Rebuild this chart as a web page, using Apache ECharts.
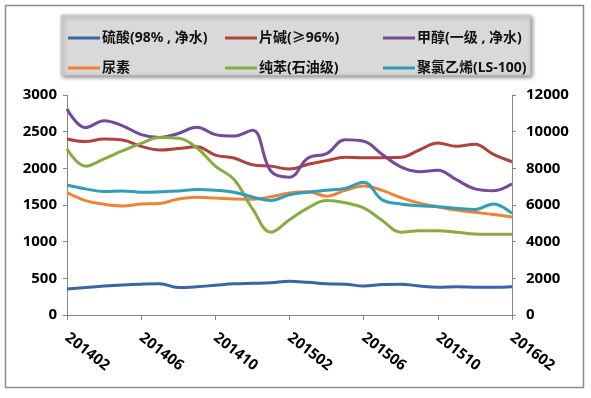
<!DOCTYPE html>
<html>
<head>
<meta charset="utf-8">
<script src="https://cdn.jsdelivr.net/npm/echarts@6/dist/echarts.min.js"></script>
<style>
  html, body { margin: 0; padding: 0; background: #fff; }
  #chart { width: 591px; height: 398px; }
</style>
</head>
<body>
<div id="chart"></div>
<script>
// 化工品价格走势 (左轴: 元/吨, 右轴: 纯苯、聚氯乙烯)

const months = [
    '201402', '201403', '201404', '201405', '201406', '201407', '201408', '201409', '201410',
    '201411', '201412', '201501', '201502', '201503', '201504', '201505', '201506', '201507',
    '201508', '201509', '201510', '201511', '201512', '201601', '201602'
];

// 左轴
const sulfuricAcid = [355, 375, 395, 410, 420, 425, 375, 385, 405, 425, 432, 440, 460, 445, 425, 420, 395, 415, 420, 395, 378, 385, 380, 378, 385];
const causticSoda = [2400, 2365, 2400, 2385, 2300, 2250, 2270, 2295, 2180, 2140, 2050, 2030, 1990, 2055, 2105, 2150, 2145, 2145, 2150, 2250, 2345, 2300, 2330, 2190, 2090];
const methanol = [2810, 2555, 2650, 2580, 2460, 2420, 2475, 2560, 2460, 2440, 2520, 1960, 1880, 2140, 2200, 2390, 2370, 2190, 2020, 1955, 1975, 1845, 1720, 1695, 1790];
const urea = [1670, 1560, 1510, 1487, 1512, 1522, 1580, 1605, 1595, 1582, 1580, 1612, 1665, 1680, 1620, 1700, 1760, 1700, 1600, 1525, 1475, 1430, 1400, 1370, 1335];

// 右轴
const benzene = [9060, 8120, 8520, 8960, 9360, 9680, 9640, 9120, 8120, 7400, 5800, 4520, 5200, 5840, 6240, 6120, 5840, 5160, 4520, 4600, 4600, 4520, 4420, 4400, 4400];
const pvc = [7090, 6880, 6740, 6770, 6700, 6720, 6760, 6840, 6800, 6700, 6440, 6240, 6560, 6700, 6800, 6900, 7240, 6280, 6060, 5960, 5910, 5820, 5760, 6060, 5540];

const names = ['硫酸(98% , 净水)', '片碱(≥96%)', '甲醇(一级 , 净水)', '尿素', '纯苯(石油级)', '聚氯乙烯(LS-100)'];
const colors = ['#3a64a4', '#b2403b', '#74489a', '#ee8433', '#86ad3e', '#2f9dbb'];

const fontFamily = '"Noto Sans", "Noto Sans CJK SC", sans-serif';

function makeLine(name, data, yAxisIndex, color) {
    return {
        name: name,
        type: 'line',
        yAxisIndex: yAxisIndex,
        data: data,
        smooth: 0.4,
        showSymbol: false,
        symbol: 'none',
        lineStyle: { width: 3, color: color },
        itemStyle: { color: color }
    };
}

function makeLegend(left, items) {
    return {
        orient: 'vertical',
        left: left,
        top: 25,
        itemWidth: 32,
        itemHeight: 3,
        itemGap: 14,
        icon: 'rect',
        data: items,
        textStyle: {
            fontFamily: fontFamily,
            fontWeight: 'bold',
            fontSize: 14,
            lineHeight: 16,
            color: '#111',
            padding: [0, 0, 0, -3]
        }
    };
}

const plainNumber = function (v) { return String(v); };

const myChart = echarts.init(document.getElementById('chart'));
myChart.setOption({
    animation: false,
    color: colors,
    graphic: [
        {
            type: 'rect',
            z: -10,
            shape: { x: 5.5, y: 5.5, width: 578, height: 382 },
            style: { fill: '#fff', stroke: '#8c8c8c', lineWidth: 1.5 }
        },
        {
            type: 'rect',
            z: -5,
            shape: { x: 61, y: 15, width: 469, height: 60 },
            style: {
                fill: '#d9d9d9',
                stroke: '#cfcfcf',
                shadowColor: 'rgba(0,0,0,0.45)',
                shadowBlur: 4,
                shadowOffsetX: 2,
                shadowOffsetY: 2
            }
        }
    ],
    legend: [
        makeLegend(63, [names[0], names[3]]),
        makeLegend(220, [names[1], names[4]]),
        makeLegend(378, [names[2], names[5]])
    ],
    grid: {
        left: 67,
        right: 79,
        top: 95,
        bottom: 83,
        containLabel: false,
        outerBoundsMode: 'none'
    },
    xAxis: {
        type: 'category',
        data: months,
        boundaryGap: false,
        axisLine: { lineStyle: { color: '#868686', width: 1 } },
        axisTick: { interval: 3, length: 5, lineStyle: { color: '#868686' } },
        axisLabel: {
            interval: 3,
            rotate: -38,
            margin: 21,
            color: '#000',
            fontFamily: fontFamily,
            fontWeight: 'bold',
            fontSize: 15
        },
        splitLine: { show: false }
    },
    yAxis: [
        {
            type: 'value',
            min: 0,
            max: 3000,
            interval: 500,
            axisLine: { show: true, lineStyle: { color: '#868686' } },
            axisTick: { show: true, length: 4, lineStyle: { color: '#868686' } },
            axisLabel: {
                margin: 10,
                color: '#000',
                fontFamily: fontFamily,
                fontWeight: 'bold',
                fontSize: 15,
                formatter: plainNumber
            },
            splitLine: { show: false }
        },
        {
            type: 'value',
            min: 0,
            max: 12000,
            interval: 2000,
            position: 'right',
            axisLine: { show: true, lineStyle: { color: '#868686' } },
            axisTick: { show: true, length: 4, lineStyle: { color: '#868686' } },
            axisLabel: {
                margin: 14,
                color: '#000',
                fontFamily: fontFamily,
                fontWeight: 'bold',
                fontSize: 15,
                formatter: plainNumber
            },
            splitLine: { show: false }
        }
    ],
    series: [
        makeLine(names[0], sulfuricAcid, 0, colors[0]),
        makeLine(names[1], causticSoda, 0, colors[1]),
        makeLine(names[2], methanol, 0, colors[2]),
        makeLine(names[3], urea, 0, colors[3]),
        makeLine(names[4], benzene, 1, colors[4]),
        makeLine(names[5], pvc, 1, colors[5])
    ]
});
</script>
</body>
</html>
